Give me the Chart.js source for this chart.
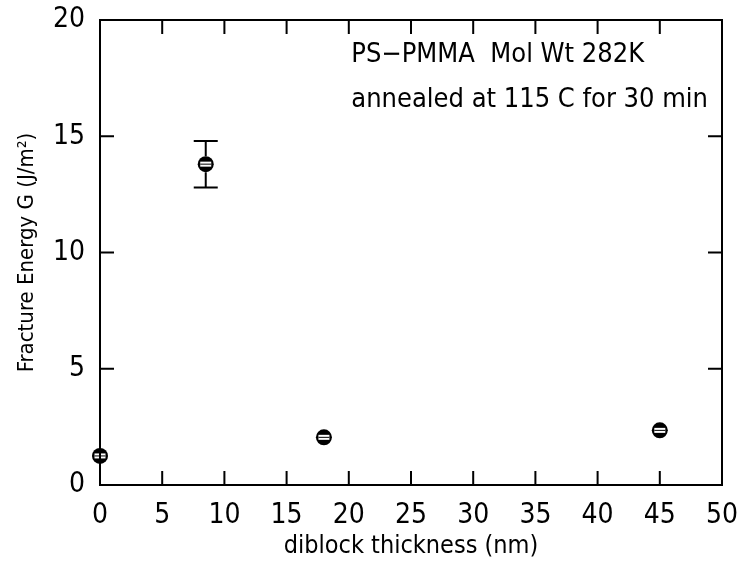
<!DOCTYPE html>
<html>
<head>
<meta charset="utf-8">
<script src="https://cdn.jsdelivr.net/npm/chart.js@4.4.0/dist/chart.umd.min.js"></script>
<style>
  html, body { margin: 0; padding: 0; background: #fff; }
  #wrap { width: 741px; height: 565px; }
</style>
</head>
<body>
<div id="wrap"><canvas id="fractureChart" width="741" height="565"></canvas></div>
<script>
// values
var thickness = [0, 8.5, 18, 45];          // diblock thickness (nm)
var energy = [1.25, 13.8, 2.05, 2.35];      // fracture energy G (J/m^2)
var errLow = [null, 12.8, null, null];
var errHigh = [null, 14.8, null, null];
var xTicks = [0, 5, 10, 15, 20, 25, 30, 35, 40, 45, 50];
var yTicks = [0, 5, 10, 15, 20];
var notes = ['PS\u2212PMMA  Mol Wt 282K', 'annealed at 115 C for 30 min'];

var FONT = '"Liberation Sans Narrow", "DejaVu Sans Condensed", "Liberation Sans", sans-serif';

function noEdgePadding(s) {
    s.paddingTop = 0; s.paddingBottom = 0; s.paddingLeft = 0; s.paddingRight = 0;
}

var framePlugin = {
    id: 'frame',
    afterDraw: function(chart) {
        var c = chart.ctx, a = chart.chartArea;
        var xs = chart.scales.x, ys = chart.scales.y;
        c.save();
        c.strokeStyle = '#000';
        c.lineWidth = 2;
        c.strokeRect(a.left, a.top, a.right - a.left, a.bottom - a.top);
        var len = 14;
        c.beginPath();
        xTicks.forEach(function(v) {
            var px = xs.getPixelForValue(v);
            c.moveTo(px, a.bottom); c.lineTo(px, a.bottom - len);
            c.moveTo(px, a.top); c.lineTo(px, a.top + len);
        });
        yTicks.forEach(function(v) {
            var py = ys.getPixelForValue(v);
            c.moveTo(a.left, py); c.lineTo(a.left + len, py);
            c.moveTo(a.right, py); c.lineTo(a.right - len, py);
        });
        c.stroke();
        // annotation text
        c.fillStyle = '#000';
        c.font = '27px ' + FONT;
        c.textBaseline = 'alphabetic';
        c.textAlign = 'left';
        c.fillText(notes[0], xs.getPixelForValue(20.2), ys.getPixelForValue(18.2));
        c.fillText(notes[1], xs.getPixelForValue(20.2), ys.getPixelForValue(16.25));
        c.restore();
    },
    afterDatasetsDraw: function(chart) {
        var c = chart.ctx, ys = chart.scales.y;
        var meta = chart.getDatasetMeta(0);
        c.save();
        c.strokeStyle = '#000';
        c.lineWidth = 2;
        meta.data.forEach(function(pt, i) {
            if (errLow[i] === null) return;
            var yl = ys.getPixelForValue(errLow[i]), yh = ys.getPixelForValue(errHigh[i]);
            c.beginPath();
            c.moveTo(pt.x, yh); c.lineTo(pt.x, pt.y - 8);
            c.moveTo(pt.x, pt.y + 8); c.lineTo(pt.x, yl);
            c.moveTo(pt.x - 12, yh); c.lineTo(pt.x + 12, yh);
            c.moveTo(pt.x - 12, yl); c.lineTo(pt.x + 12, yl);
            c.stroke();
        });
        // white slot inside each marker
        meta.data.forEach(function(pt) {
            c.fillStyle = '#fff';
            c.fillRect(pt.x - 5.5, pt.y - 2.5, 11, 5);
            c.fillStyle = '#000';
            c.fillRect(pt.x - 5.5, pt.y - 0.5, 11, 1);
        });
        c.restore();
    }
};

var ctx = document.getElementById('fractureChart').getContext('2d');
var fractureChart = new Chart(ctx, {
    type: 'scatter',
    data: {
        datasets: [{
            data: thickness.map(function(t, i) { return { x: t, y: energy[i] }; }),
            backgroundColor: '#000',
            borderColor: '#000',
            pointRadius: 8,
            pointHoverRadius: 8,
            borderWidth: 0
        }]
    },
    options: {
        responsive: false,
        animation: false,
        clip: false,
        layout: { padding: { top: 20, right: 19, left: 0, bottom: 0 } },
        plugins: { legend: { display: false }, tooltip: { enabled: false } },
        scales: {
            x: {
                type: 'linear', min: 0, max: 50,
                afterBuildTicks: function(s) { s.ticks = xTicks.map(function(v) { return { value: v }; }); },
                afterFit: function(s) { s.height = 80; noEdgePadding(s); },
                grid: { display: false, drawTicks: false },
                border: { display: false },
                ticks: { color: '#000', padding: 14, maxRotation: 0, font: { family: FONT, size: 28 } },
                title: { display: true, text: 'diblock thickness (nm)', color: '#000', padding: { top: 0, bottom: 4 }, font: { family: FONT, size: 25 } }
            },
            y: {
                type: 'linear', min: 0, max: 20,
                afterBuildTicks: function(s) { s.ticks = yTicks.map(function(v) { return { value: v }; }); },
                afterFit: function(s) { s.width = 100; noEdgePadding(s); },
                grid: { display: false, drawTicks: false },
                border: { display: false },
                ticks: { color: '#000', padding: 15, font: { family: FONT, size: 28 } },
                title: { display: true, text: 'Fracture Energy G (J/m\u00b2)', color: '#000', padding: { top: 14, bottom: 4 }, font: { family: FONT, size: 22 } }
            }
        }
    },
    plugins: [framePlugin]
});
</script>
</body>
</html>
